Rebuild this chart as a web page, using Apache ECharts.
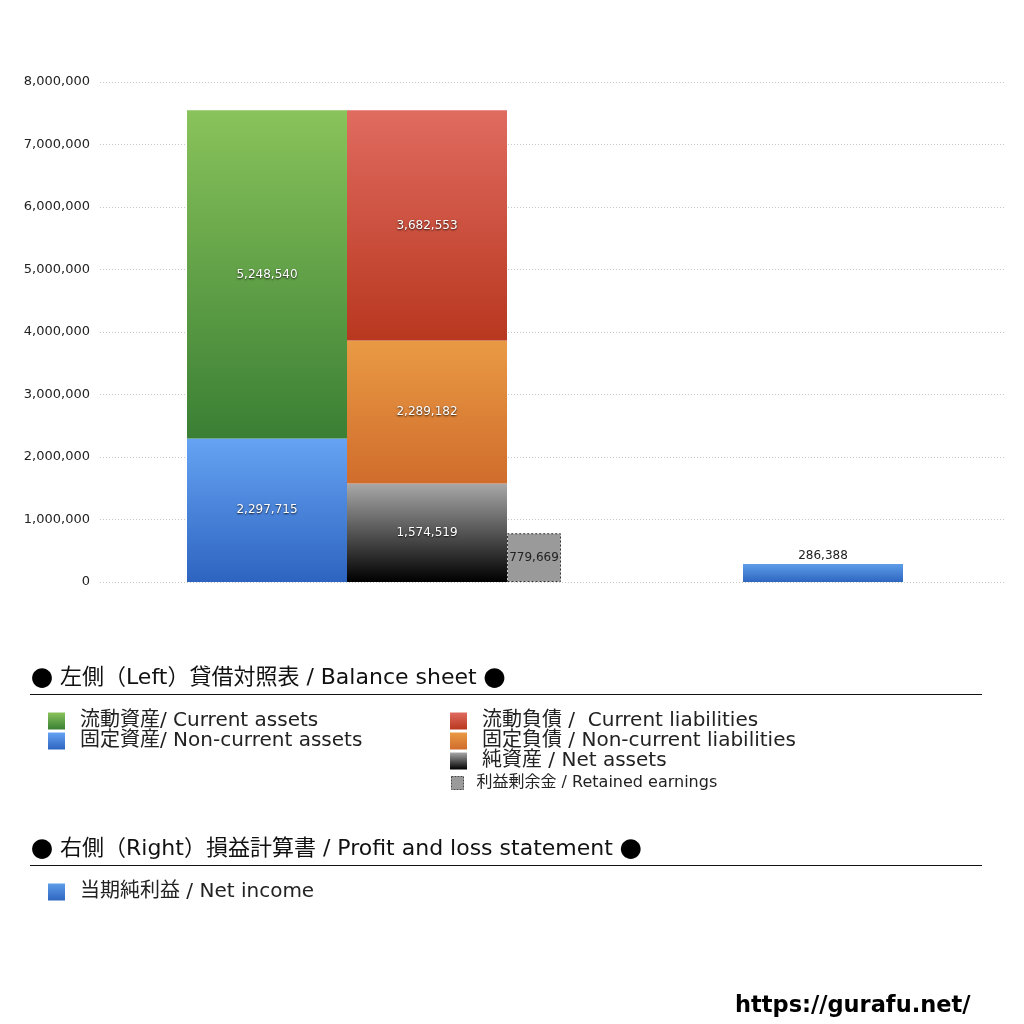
<!DOCTYPE html>
<html>
<head>
<meta charset="utf-8">
<script src="https://cdn.jsdelivr.net/npm/echarts@6/dist/echarts.min.js"></script>
<style>html,body{margin:0;padding:0;background:#fff}#c{width:1024px;height:1024px}</style>
</head>
<body>
<div id="c"></div>
<script>
// ---- data ----
const bsCategory = ['貸借対照表'];
const plCategory = ['損益計算書'];
const currentAssets = [5248540];
const nonCurrentAssets = [2297715];
const currentLiabilities = [3682553];
const nonCurrentLiabilities = [2289182];
const netAssets = [1574519];
const retainedEarnings = [779669];
const netIncome = [286388];
const yTicks = [0, 1000000, 2000000, 3000000, 4000000, 5000000, 6000000, 7000000, 8000000];

const names = {
  ca: '流動資産/ Current assets',
  nca: '固定資産/ Non-current assets',
  cl: '流動負債 /  Current liabilities',
  ncl: '固定負債 / Non-current liabilities',
  na: '純資産 / Net assets',
  re: '利益剰余金 / Retained earnings',
  ni: '当期純利益 / Net income'
};
const headerBS = ['左側（Left）貸借対照表 / Balance sheet'];
const headerPL = ['右側（Right）損益計算書 / Profit and loss statement'];
const watermark = 'https://gurafu.net/';

const FONT = '"DejaVu Sans", "Noto Sans CJK JP", sans-serif';
const CJK = '"Noto Sans CJK JP", sans-serif';
const fmt = v => Number(v).toLocaleString('en-US');
const grad = (top, bottom) => new echarts.graphic.LinearGradient(0, 0, 0, 1, [
  { offset: 0, color: top }, { offset: 1, color: bottom }
]);
const whiteLabel = {
  show: true, position: 'inside', color: '#ffffff', fontSize: 12, fontFamily: FONT,
  textShadowColor: 'rgba(0,0,0,0.85)', textShadowBlur: 2, textShadowOffsetY: 1,
  formatter: p => fmt(p.value)
};
const legendText = { fontSize: 20, lineHeight: 17, color: '#222', fontFamily: FONT, padding: [0, 0, 0, 10] };

const chart = echarts.init(document.getElementById('c'), null, { renderer: 'canvas' });
const yMax = yTicks[yTicks.length - 1];

const headerText = (txt, top) => ({
  type: 'text', left: 31, top: top,
  style: {
    text: '{b|●} ' + txt + ' {b|●}',
    fill: '#111', fontSize: 22, fontFamily: FONT,
    rich: { b: { fontFamily: CJK, fontSize: 22, fill: '#000' } }
  }
});

const option = {
  backgroundColor: '#ffffff',
  animation: false,
  textStyle: { fontFamily: FONT },
  grid: [
    { left: 100, right: 19, top: 82, height: 500, containLabel: false },
    { left: 187, width: 374, top: 82, height: 500, containLabel: false },
    { left: 743, width: 160, top: 82, height: 500, containLabel: false }
  ],
  xAxis: [
    { type: 'category', gridIndex: 0, data: [''], show: false },
    { type: 'category', gridIndex: 1, data: bsCategory, show: false },
    { type: 'category', gridIndex: 2, data: plCategory, show: false }
  ],
  yAxis: [
    {
      type: 'value', gridIndex: 0, min: yTicks[0], max: yMax, interval: yTicks[1] - yTicks[0],
      axisLine: { show: false }, axisTick: { show: false },
      axisLabel: { color: '#222', fontSize: 13, fontFamily: FONT, margin: 10, formatter: v => fmt(v) },
      splitLine: { show: true, lineStyle: { color: '#c8c8c8', type: [1, 2], width: 1 } }
    },
    { type: 'value', gridIndex: 1, min: yTicks[0], max: yMax, show: false, splitLine: { show: false } },
    { type: 'value', gridIndex: 2, min: yTicks[0], max: yMax, show: false, splitLine: { show: false } }
  ],
  legend: [
    {
      left: 43, top: 706, orient: 'vertical', itemWidth: 17, itemHeight: 17, itemGap: 0,
      selectedMode: false, icon: 'rect', textStyle: legendText,
      data: [names.ca, names.nca]
    },
    {
      left: 445, top: 706, orient: 'vertical', itemWidth: 17, itemHeight: 17, itemGap: 0,
      selectedMode: false, icon: 'rect', textStyle: legendText,
      data: [names.cl, names.ncl, names.na]
    },
    {
      left: 446, top: 770, orient: 'vertical', itemWidth: 12, itemHeight: 13, itemGap: 3,
      selectedMode: false, icon: 'rect',
      itemStyle: { borderColor: '#444', borderWidth: 1, borderType: [2, 1] },
      textStyle: { fontSize: 16, lineHeight: 13, color: '#222', fontFamily: FONT, padding: [0, 0, 0, 8] },
      data: [names.re]
    },
    {
      left: 43, top: 877, orient: 'vertical', itemWidth: 17, itemHeight: 17, itemGap: 0,
      selectedMode: false, icon: 'rect', textStyle: legendText,
      data: [names.ni]
    }
  ],
  graphic: [
    headerText(headerBS[0], 667),
    { type: 'line', shape: { x1: 30, y1: 694.5, x2: 982, y2: 694.5 }, style: { stroke: '#111', lineWidth: 1 } },
    headerText(headerPL[0], 838),
    { type: 'line', shape: { x1: 30, y1: 865.5, x2: 982, y2: 865.5 }, style: { stroke: '#111', lineWidth: 1 } },
    { type: 'text', left: 735, top: 995, style: { text: watermark, fill: '#000', fontSize: 22.5, fontWeight: 'bold', fontFamily: FONT } }
  ],
  series: [
    {
      name: names.nca, type: 'bar', xAxisIndex: 1, yAxisIndex: 1, stack: 'assets', barWidth: 160, barGap: '0%',
      data: nonCurrentAssets, itemStyle: { color: grad('#66a3f3', '#2d64c0') }, label: whiteLabel
    },
    {
      name: names.ca, type: 'bar', xAxisIndex: 1, yAxisIndex: 1, stack: 'assets', barWidth: 160, barGap: '0%',
      data: currentAssets, itemStyle: { color: grad('#89c35b', '#3a7f34') }, label: whiteLabel
    },
    {
      name: names.na, type: 'bar', xAxisIndex: 1, yAxisIndex: 1, stack: 'liab', barWidth: 160, barGap: '0%',
      data: netAssets, itemStyle: { color: grad('#a8a8a8', '#000000') }, label: whiteLabel
    },
    {
      name: names.ncl, type: 'bar', xAxisIndex: 1, yAxisIndex: 1, stack: 'liab', barWidth: 160, barGap: '0%',
      data: nonCurrentLiabilities, itemStyle: { color: grad('#e99a44', '#d06c2c') }, label: whiteLabel
    },
    {
      name: names.cl, type: 'bar', xAxisIndex: 1, yAxisIndex: 1, stack: 'liab', barWidth: 160, barGap: '0%',
      data: currentLiabilities, itemStyle: { color: grad('#e06b60', '#b8371f') }, label: whiteLabel
    },
    {
      name: names.re, type: 'bar', xAxisIndex: 1, yAxisIndex: 1, stack: 're', barWidth: 54, barGap: '0%',
      data: retainedEarnings,
      itemStyle: { color: '#9a9a9a', borderColor: '#333', borderWidth: 1, borderType: [2, 2] },
      label: { show: true, position: 'inside', color: '#222', fontSize: 12, fontFamily: FONT, formatter: p => fmt(p.value) }
    },
    {
      name: names.ni, type: 'bar', xAxisIndex: 2, yAxisIndex: 2, barWidth: 160,
      data: netIncome, itemStyle: { color: grad('#5e9de9', '#2e66c0') },
      label: { show: true, position: 'top', distance: 2, color: '#222', fontSize: 12, fontFamily: FONT, formatter: p => fmt(p.value) }
    }
  ]
};
chart.setOption(option);
</script>
</body>
</html>
